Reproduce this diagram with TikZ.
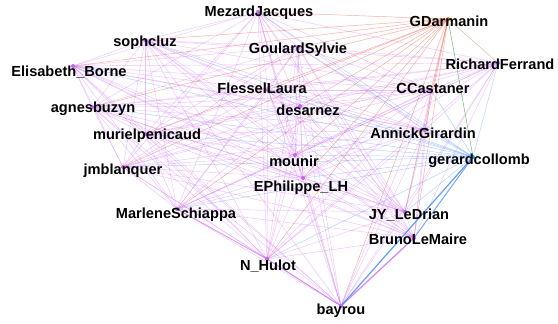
\documentclass[tikz,border=0pt]{standalone}
\usepackage{fontspec}
\setmainfont{Liberation Sans}
\begin{document}
\begin{tikzpicture}[x=1pt,y=-1pt,
  lbl/.style={font=\bfseries\fontsize{14.6}{15}\selectfont, text=black, inner sep=0pt},
  pp/.style={draw={rgb,255:red,205;green,100;blue,250}, draw opacity=0.38, line width=0.45pt},
  pg/.style={draw={rgb,255:red,240;green,85;blue,60}, draw opacity=0.5, line width=0.45pt},
  pc/.style={draw={rgb,255:red,70;green,140;blue,255}, draw opacity=0.42, line width=0.45pt},
  gc/.style={draw={rgb,255:red,90;green,160;blue,90}, draw opacity=0.8, line width=0.5pt},
  dotp/.style={circle, fill={rgb,255:red,200;green,100;blue,240}, inner sep=0pt, minimum size=4pt},
]
\useasboundingbox (0,0) rectangle (558,324);
% node points
\coordinate (Mezard) at (258,12);
\coordinate (Sophc) at (145,40);
\coordinate (Goulard) at (298,47);
\coordinate (Borne) at (73,66);
\coordinate (Flessel) at (268,90);
\coordinate (Castaner) at (431,90);
\coordinate (Buzyn) at (92,107);
\coordinate (Sarnez) at (300,106);
\coordinate (Penicaud) at (145,134);
\coordinate (Girardin) at (425,130);
\coordinate (Mounir) at (295,155);
\coordinate (Blanquer) at (123,167);
\coordinate (Philippe) at (303,178);
\coordinate (Schiappa) at (177,209);
\coordinate (LeDrian) at (405,212);
\coordinate (LeMaire) at (414,238);
\coordinate (Hulot) at (267,259);
\coordinate (Bayrou) at (341,306);
\coordinate (Ferrand) at (498,63);
\coordinate (Darmanin) at (448,19);
\coordinate (Collomb) at (473,157);
% purple-purple edges
\foreach \a [count=\i] in {Mezard,Sophc,Goulard,Borne,Flessel,Castaner,Buzyn,Sarnez,Penicaud,Girardin,Mounir,Blanquer,Philippe,Schiappa,LeDrian,LeMaire,Hulot,Bayrou,Ferrand}{
  \foreach \b [count=\j] in {Mezard,Sophc,Goulard,Borne,Flessel,Castaner,Buzyn,Sarnez,Penicaud,Girardin,Mounir,Blanquer,Philippe,Schiappa,LeDrian,LeMaire,Hulot,Bayrou,Ferrand}{
    \ifnum\j>\i \path[pp] (\a) -- (\b); \fi
  }
}
% Darmanin edges
\foreach \a in {Mezard,Sophc,Goulard,Borne,Flessel,Castaner,Buzyn,Sarnez,Penicaud,Girardin,Mounir,Blanquer,Philippe,Schiappa,LeDrian,LeMaire,Hulot,Bayrou,Ferrand}{
  \path[pg] (Darmanin) -- (\a);
}
% Collomb edges
\foreach \a in {Mezard,Sophc,Goulard,Borne,Flessel,Castaner,Buzyn,Sarnez,Penicaud,Girardin,Mounir,Blanquer,Philippe,Schiappa,LeDrian,LeMaire,Hulot,Bayrou,Ferrand}{
  \path[pc] (Collomb) -- (\a);
}
\path[gc] (Darmanin) -- (Collomb);
% heavier edges
\path[pp, draw opacity=0.7, line width=1.3pt] (Bayrou) -- (LeMaire);
\path[pc, draw opacity=0.8, line width=1.2pt] (Bayrou) -- (Collomb);
\path[pp, draw opacity=0.6, line width=1pt] (Bayrou) -- (Hulot);
\path[pp, draw opacity=0.55, line width=0.9pt] (Schiappa) -- (Hulot);
\path[pc, draw opacity=0.7, line width=0.9pt] (LeMaire) -- (Collomb);
% dots
\foreach \a in {Mezard,Sophc,Goulard,Borne,Flessel,Castaner,Buzyn,Sarnez,Penicaud,Girardin,Mounir,Blanquer,Philippe,Schiappa,LeDrian,LeMaire,Hulot,Bayrou,Ferrand}{
  \node[dotp] (d\a) at (\a) {};
}
\node[dotp, fill={rgb,255:red,230;green,140;blue,20}] (dDarmanin) at (Darmanin) {};
\node[dotp, fill={rgb,255:red,20;green,170;blue,230}] (dCollomb) at (Collomb) {};
% labels
\node[lbl] (lMezard) at (259,13) {MezardJacques};
\node[lbl] (lDarmanin) at (449,21) {GDarmanin};
\node[lbl] (lSophc) at (145,43) {sophcluz};
\node[lbl] (lGoulard) at (298,50) {GoulardSylvie};
\node[lbl] (lFerrand) at (500,64) {RichardFerrand};
\node[lbl] (lBorne) at (69,72) {Elisabeth\_Borne};
\node[lbl] (lFlessel) at (262,88) {FlesselLaura};
\node[lbl] (lCastaner) at (433,88) {CCastaner};
\node[lbl] (lBuzyn) at (93,109) {agnesbuzyn};
\node[lbl] (lSarnez) at (308,110) {desarnez};
\node[lbl] (lPenicaud) at (147,136) {murielpenicaud};
\node[lbl] (lGirardin) at (423,133) {AnnickGirardin};
\node[lbl] (lMounir) at (294,161) {mounir};
\node[lbl] (lCollomb) at (479,161) {gerardcollomb};
\node[lbl] (lBlanquer) at (123,171) {jmblanquer};
\node[lbl] (lPhilippe) at (301,188) {EPhilippe\_LH};
\node[lbl] (lSchiappa) at (176,215) {MarleneSchiappa};
\node[lbl] (lLeDrian) at (409,215) {JY\_LeDrian};
\node[lbl] (lLeMaire) at (418,239) {BrunoLeMaire};
\node[lbl] (lHulot) at (268,266) {N\_Hulot};
\node[lbl] (lBayrou) at (341,311) {bayrou};
\end{tikzpicture}
\end{document}
